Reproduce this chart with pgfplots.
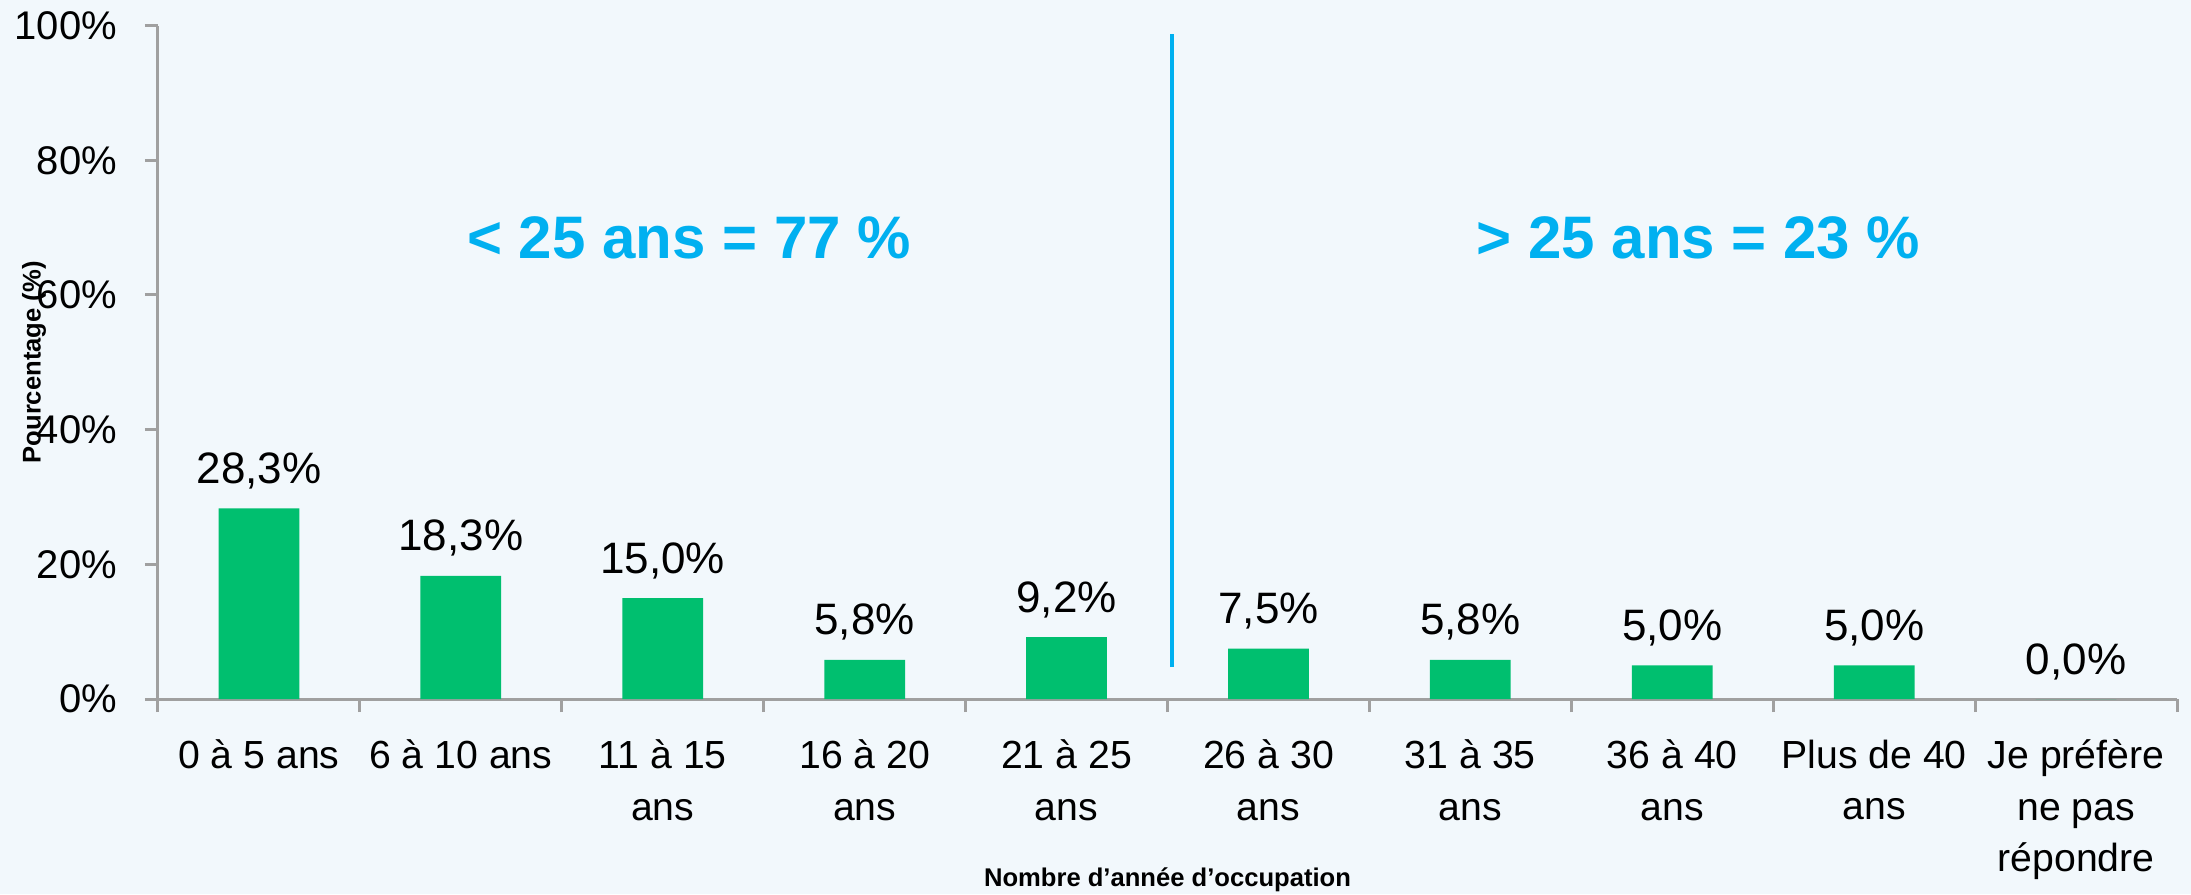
\documentclass[border=0pt]{standalone}
\usepackage{pgfplots}
\pgfplotsset{compat=1.18}
\usepackage{fontspec}
\setmainfont{Liberation Sans}
\definecolor{bg}{RGB}{242,248,252}
\definecolor{barg}{RGB}{0,191,111}
\definecolor{cyanl}{RGB}{0,176,240}
\definecolor{axg}{RGB}{160,160,160}
\begin{document}
\begin{tikzpicture}
\path[use as bounding box, fill=bg] (-39.5pt,-48.75pt) rectangle (508.25pt,174.75pt);
\begin{axis}[
  scale only axis, width=504.75pt, height=168.35pt,
  xmin=-0.5, xmax=9.5, ymin=0, ymax=100,
  clip=false,
  axis lines=left,
  axis line style={-, draw=axg, line width=0.75pt},
  tick align=outside, major tick length=3.25pt,
  tick style={draw=axg, line width=0.75pt},
  xtick={-0.5,0.5,...,9.5}, xticklabels={},
  extra x ticks={0,1,2,3,4,5,6,7,8,9},
  extra x tick labels={0 à 5 ans,6 à 10 ans,{11 à 15\\ans},{16 à 20\\ans},{21 à 25\\ans},{26 à 30\\ans},{31 à 35\\ans},{36 à 40\\ans},{Plus de 40\\ans},{Je préfère\\ne pas\\répondre}},
  extra x tick style={major tick length=0pt,
    tick label style={anchor=north, inner sep=0pt, yshift=-10.0pt, align=center,
      font=\fontsize{9.8}{12.9}\selectfont}},
  ytick={0,20,40,60,80,100},
  yticklabels={0\%,20\%,40\%,60\%,80\%,100\%},
  yticklabel style={anchor=east, inner sep=0pt, xshift=-6.8pt, font=\fontsize{10}{11}\selectfont},
  ylabel={Pourcentage (\%)},
  every axis y label/.style={at={(axis description cs:-0.0581,0.5)}, rotate=90, anchor=base,
     font=\fontsize{6.4}{7}\selectfont\bfseries},
  xlabel={Nombre d’année d’occupation},
  every axis x label/.style={at={(axis description cs:0.5,0)}, anchor=base, yshift=-46.9pt,
     font=\fontsize{6.4}{7}\selectfont\bfseries},
]
\addplot[ybar, bar width=0.4, fill=barg, draw=none,
  nodes near coords, point meta=explicit symbolic,
  every node near coord/.append style={anchor=base, yshift=6.25pt, text=black,
     font=\fontsize{11}{12}\selectfont}]
  coordinates {
  (0,28.3) [28,3\%]
  (1,18.3) [18,3\%]
  (2,15.0) [15,0\%]
  (3,5.8) [5,8\%]
  (4,9.2) [9,2\%]
  (5,7.5) [7,5\%]
  (6,5.8) [5,8\%]
  (7,5.0) [5,0\%]
  (8,5.0) [5,0\%]
  (9,0.0) [0,0\%]
  };
\addplot[cyanl, line width=1pt, forget plot] coordinates {(4.52,4.75) (4.52,98.75)};
\node[font=\fontsize{15}{18}\selectfont\bfseries, text=cyanl, anchor=base] at (axis cs:2.13,65.45) {< 25 ans = 77 \%};
\node[font=\fontsize{15}{18}\selectfont\bfseries, text=cyanl, anchor=base] at (axis cs:7.13,65.45) {> 25 ans = 23 \%};
\end{axis}
\end{tikzpicture}
\end{document}
